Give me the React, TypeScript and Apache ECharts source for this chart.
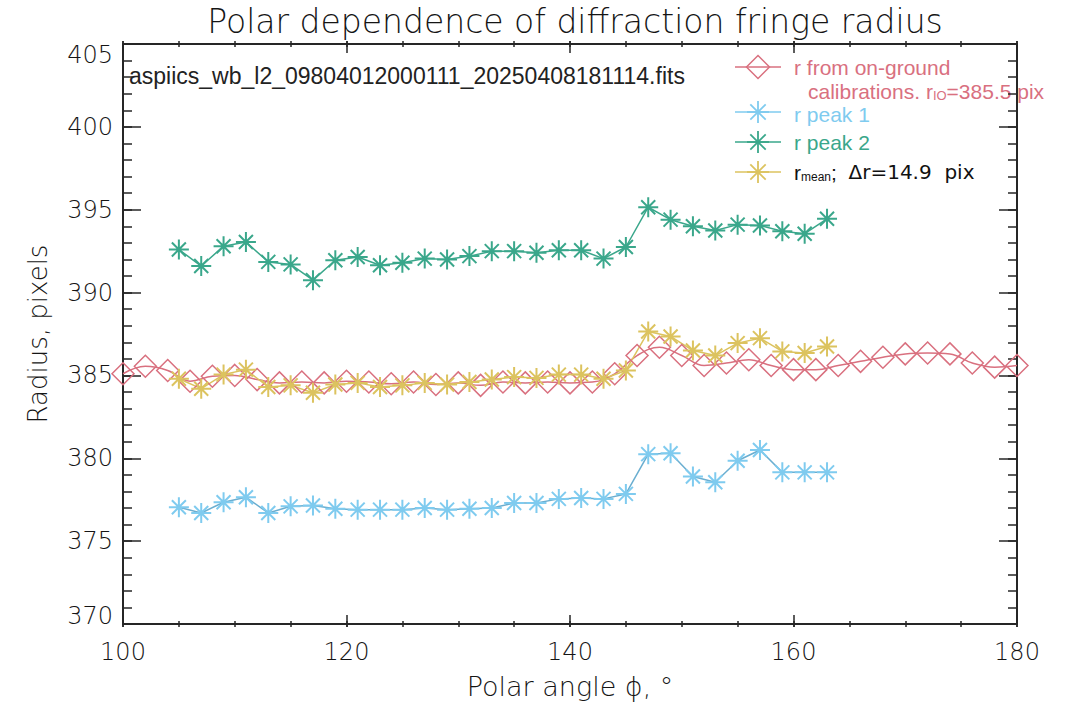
import React, { useEffect, useRef } from 'react';
import * as echarts from 'echarts';

const peakAngles = [105, 107, 109, 111, 113, 115, 117, 119, 121, 123, 125, 127, 129, 131, 133, 135, 137, 139, 141, 143, 145, 147, 149, 151, 153, 155, 157, 159, 161, 163];
const peak1 = [377.05, 376.7, 377.35, 377.65, 376.7, 377.1, 377.15, 376.95, 376.9, 376.9, 376.9, 377.0, 376.9, 376.95, 377.0, 377.3, 377.3, 377.55, 377.6, 377.55, 377.85, 380.25, 380.3, 378.9, 378.55, 379.85, 380.5, 379.15, 379.15, 379.15];
const peak2 = [392.6, 391.6, 392.8, 393.05, 391.85, 391.7, 390.75, 391.95, 392.15, 391.65, 391.8, 392.05, 392.0, 392.2, 392.5, 392.5, 392.4, 392.55, 392.55, 392.05, 392.75, 395.15, 394.4, 394.0, 393.75, 394.1, 394.05, 393.7, 393.55, 394.45];
const meanR = [384.8, 384.2, 385.05, 385.35, 384.3, 384.4, 383.95, 384.45, 384.55, 384.3, 384.4, 384.55, 384.45, 384.6, 384.75, 384.9, 384.85, 385.05, 385.05, 384.8, 385.3, 387.65, 387.35, 386.5, 386.2, 386.95, 387.25, 386.45, 386.35, 386.75];
const calibAngles = [100, 102, 104, 106, 108, 110, 112, 114, 116, 118, 120, 122, 124, 126, 128, 130, 132, 134, 136, 138, 140, 142, 144, 146, 148, 150, 152, 154, 156, 158, 160, 162, 164, 166, 168, 170, 172, 174, 176, 178, 180];
const calibR = [385.1, 385.55, 385.3, 384.65, 384.95, 385.0, 384.75, 384.55, 384.6, 384.55, 384.65, 384.6, 384.5, 384.6, 384.45, 384.55, 384.4, 384.6, 384.55, 384.6, 384.55, 384.6, 385.1, 386.2, 386.7, 386.2, 385.6, 385.75, 385.95, 385.6, 385.35, 385.35, 385.6, 385.85, 386.1, 386.3, 386.35, 386.3, 385.75, 385.5, 385.6];

const titleText = 'Polar dependence of diffraction fringe radius';
const fileText = 'aspiics_wb_l2_09804012000111_20250408181114.fits';
const xName = 'Polar angle ϕ, °';
const yName = 'Radius, pixels';

const RED = '#d9707f';
const BLUE = '#7fcbef';
const GREEN = '#3aa78b';
const YELLOW = '#dcc35f';
const AXIS = '#262626';
const TXT = '#151515';
const HFONT = '"DejaVu Sans", sans-serif';
const AFONT = '"Liberation Sans", Arial, sans-serif';
const STAR = 'path://M0,10L20,10M10,0L10,20M3,3L17,17M3,17L17,3';
const DIAMOND = 'path://M10,0L20,10L10,20L0,10Z';

const GRID_W = 894;
const GRID_H = 583;

function starLines(cx: number, cy: number, r: number, color: string) {
  const d = r * 0.7;
  const segs = [
    [cx - r, cy, cx + r, cy],
    [cx, cy - r, cx, cy + r],
    [cx - d, cy - d, cx + d, cy + d],
    [cx - d, cy + d, cx + d, cy - d],
  ];
  return segs.map((s) => ({
    type: 'line',
    shape: { x1: s[0], y1: s[1], x2: s[2], y2: s[3] },
    style: { stroke: color, lineWidth: 1.8 },
  }));
}

function legendRow(y: number, color: string, diamond: boolean) {
  const items: any[] = [
    { type: 'line', shape: { x1: 735, y1: y, x2: 781, y2: y }, style: { stroke: color, lineWidth: 1.5 } },
  ];
  if (diamond) {
    items.push({
      type: 'polygon',
      shape: { points: [[758, y - 11.5], [769.5, y], [758, y + 11.5], [746.5, y]] },
      style: { stroke: color, fill: 'none', lineWidth: 1.5 },
    });
  } else {
    items.push(...starLines(758, y, 11, color));
  }
  return items;
}

export default function App() {
  const ref = useRef<HTMLDivElement>(null);
  useEffect(() => {
    if (!ref.current) return;
    const chart = echarts.init(ref.current, undefined, { renderer: 'svg' });

    const starSeries = (name: string, vals: number[], color: string, lineColor: string) => ({
      type: 'line',
      name,
      data: peakAngles.map((a, i) => [a, vals[i]]),
      symbol: STAR,
      symbolSize: 20,
      itemStyle: { color, borderColor: color, borderWidth: 2 },
      lineStyle: { color: lineColor, width: 1.5 },
      emphasis: { disabled: true },
      clip: true,
    });

    const lineOn = { show: true, onZero: false, lineStyle: { color: AXIS, width: 2 } };
    const lineOff = { show: false, onZero: false };
    const xRange = { type: 'value', min: 100, max: 180, interval: 20, splitLine: { show: false } };
    const yRange = { type: 'value', min: 370, max: 405, interval: 5, splitLine: { show: false } };
    // tick-only axes, placed on the opposite side with a negative offset so their ticks point into the plot
    const tickAxis = (len: number, interval: number) => ({
      interval,
      axisTick: { show: true, inside: false, length: len, lineStyle: { color: AXIS, width: 1.5 } },
      minorTick: { show: false },
      axisLabel: { show: false },
      axisLine: lineOff,
    });
    const yLabelStyle = (pad: number[]) => ({ fontFamily: HFONT, fontSize: 24, fontWeight: 200, color: TXT, padding: pad });

    const option: any = {
      animation: false,
      backgroundColor: '#ffffff',
      title: {
        text: titleText,
        left: 570,
        top: 0,
        textAlign: 'center',
        textStyle: { fontFamily: HFONT, fontSize: 33, fontWeight: 200, color: TXT },
      },
      grid: { left: 123, right: 51, top: 44, bottom: 78, containLabel: false },
      xAxis: [
        {
          ...xRange,
          position: 'bottom',
          axisLine: lineOn,
          axisTick: { show: false },
          minorTick: { show: false },
          name: xName,
          nameLocation: 'middle',
          nameGap: 49,
          nameTextStyle: { fontFamily: HFONT, fontSize: 27, fontWeight: 200, color: TXT },
          axisLabel: { show: true, margin: 16, fontFamily: HFONT, fontSize: 24, fontWeight: 200, color: TXT },
        },
        { ...xRange, position: 'top', axisLine: lineOn, axisTick: { show: false }, axisLabel: { show: false } },
        { ...xRange, position: 'top', offset: -GRID_H, ...tickAxis(6, 5) },
        { ...xRange, position: 'bottom', offset: -GRID_H, ...tickAxis(6, 5) },
        { ...xRange, position: 'top', offset: -GRID_H, ...tickAxis(12, 20) },
        { ...xRange, position: 'bottom', offset: -GRID_H, ...tickAxis(12, 20) },
      ],
      yAxis: [
        {
          ...yRange,
          position: 'left',
          axisLine: lineOn,
          axisTick: { show: false },
          minorTick: { show: false },
          name: yName,
          nameLocation: 'middle',
          nameGap: 72,
          nameTextStyle: { fontFamily: HFONT, fontSize: 26, fontWeight: 200, color: TXT },
          axisLabel: {
            show: true,
            margin: 10,
            fontFamily: HFONT,
            fontSize: 24,
            fontWeight: 200,
            color: TXT,
            formatter: (v: number) => (v === 405 ? '{t|405}' : v === 370 ? '{b|370}' : '{n|' + v + '}'),
            rich: {
              t: yLabelStyle([22, 0, 0, 0]),
              b: yLabelStyle([0, 0, 16, 0]),
              n: yLabelStyle([0, 0, 0, 0]),
            },
          },
        },
        { ...yRange, position: 'right', axisLine: lineOn, axisTick: { show: false }, axisLabel: { show: false } },
        { ...yRange, position: 'right', offset: -GRID_W, ...tickAxis(9, 1) },
        { ...yRange, position: 'left', offset: -GRID_W, ...tickAxis(9, 1) },
        { ...yRange, position: 'right', offset: -GRID_W, ...tickAxis(18, 5) },
        { ...yRange, position: 'left', offset: -GRID_W, ...tickAxis(18, 5) },
      ],
      series: [
        {
          type: 'line',
          name: 'r from on-ground calibrations',
          data: calibAngles.map((a, i) => [a, calibR[i]]),
          symbol: DIAMOND,
          symbolSize: 22,
          smooth: 0.4,
          itemStyle: { color: 'rgba(0,0,0,0)', borderColor: RED, borderWidth: 1.5 },
          lineStyle: { color: RED, width: 1.5 },
          emphasis: { disabled: true },
          clip: true,
        },
        starSeries('r peak 1', peak1, BLUE, '#6aaed0'),
        starSeries('r peak 2', peak2, GREEN, GREEN),
        starSeries('r mean', meanR, YELLOW, YELLOW),
      ],
      graphic: [
        {
          type: 'text',
          x: 129,
          y: 76,
          style: { text: fileText, fill: '#222', fontFamily: AFONT, fontSize: 23, verticalAlign: 'middle', align: 'left' },
        },
        ...legendRow(67, RED, true),
        ...legendRow(112, BLUE, false),
        ...legendRow(142, GREEN, false),
        ...legendRow(172, YELLOW, false),
        {
          type: 'text',
          x: 794,
          y: 67,
          style: { text: 'r from on-ground', fill: RED, fontFamily: AFONT, fontSize: 21, verticalAlign: 'middle', align: 'left' },
        },
        {
          type: 'text',
          x: 808,
          y: 91,
          style: {
            text: '{a|calibrations. r}{s|IO}{a|=385.5 pix}',
            fill: RED,
            verticalAlign: 'middle',
            align: 'left',
            rich: {
              a: { fontFamily: AFONT, fontSize: 21, fill: RED, color: RED, lineHeight: 21 },
              s: { fontFamily: AFONT, fontSize: 13, fill: RED, color: RED, lineHeight: 10, verticalAlign: 'bottom' },
            },
          },
        },
        {
          type: 'text',
          x: 794,
          y: 114,
          style: { text: 'r peak 1', fill: BLUE, fontFamily: AFONT, fontSize: 21, verticalAlign: 'middle', align: 'left' },
        },
        {
          type: 'text',
          x: 794,
          y: 142,
          style: { text: 'r peak 2', fill: GREEN, fontFamily: AFONT, fontSize: 21, verticalAlign: 'middle', align: 'left' },
        },
        {
          type: 'text',
          x: 794,
          y: 172,
          style: {
            text: '{a|r}{s|mean}{a|;  }{h|Δr=14.9  pix}',
            fill: '#111',
            verticalAlign: 'middle',
            align: 'left',
            rich: {
              a: { fontFamily: AFONT, fontSize: 21, fill: '#111', color: '#111', lineHeight: 22 },
              s: { fontFamily: AFONT, fontSize: 12, fill: '#111', color: '#111', lineHeight: 11, verticalAlign: 'bottom' },
              h: { fontFamily: HFONT, fontSize: 20, fill: '#111', color: '#111', lineHeight: 22 },
            },
          },
        },
      ],
    };

    chart.setOption(option);
    return () => chart.dispose();
  }, []);

  return <div ref={ref} style={{ position: 'fixed', left: 0, top: 0, width: 1068, height: 705 }} />;
}
